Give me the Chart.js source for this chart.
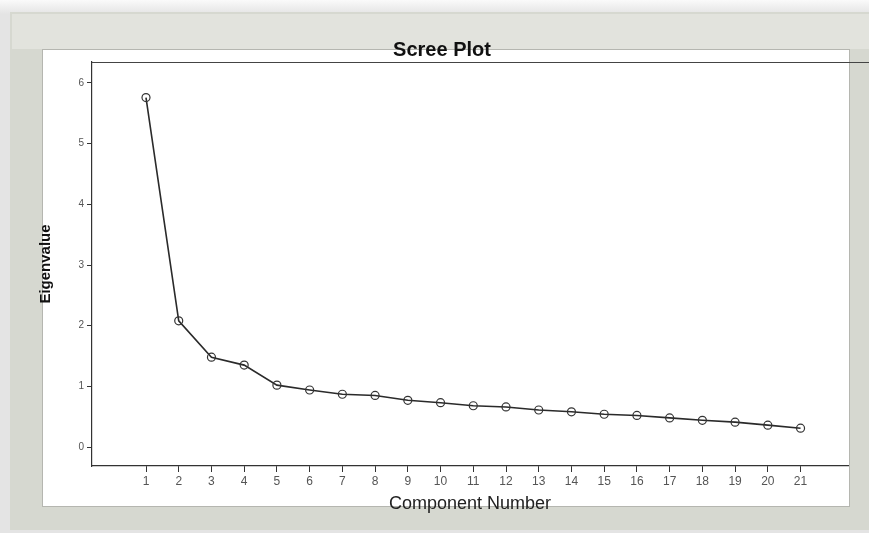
<!DOCTYPE html>
<html>
<head>
<meta charset="utf-8">
<script src="https://cdn.jsdelivr.net/npm/chart.js@4.4.1/dist/chart.umd.min.js"></script>
<style>
  html, body { margin: 0; padding: 0; background: #f0f0f0; }
  #wrap { width: 869px; height: 533px; position: relative; }
</style>
</head>
<body>
<div id="wrap"><canvas id="myChart"></canvas></div>
<script>
const components = [1, 2, 3, 4, 5, 6, 7, 8, 9, 10, 11, 12, 13, 14, 15, 16, 17, 18, 19, 20, 21];
const eigenvalues = [5.76, 2.08, 1.48, 1.35, 1.02, 0.94, 0.87, 0.85, 0.77, 0.73, 0.68, 0.66, 0.61, 0.58, 0.54, 0.52, 0.48, 0.44, 0.41, 0.36, 0.31];
const yTicks = [0, 1, 2, 3, 4, 5, 6];

const points = components.map((c, i) => ({ x: c, y: eigenvalues[i] }));

// gray window frame + white panel behind the plot
const framePlugin = {
  id: "frame",
  beforeDraw(chart) {
    const ctx = chart.ctx;
    ctx.save();
    const g = ctx.createLinearGradient(0, 0, 0, 14);
    g.addColorStop(0, "#fafafa");
    g.addColorStop(1, "#e4e4e4");
    ctx.fillStyle = g;
    ctx.fillRect(0, 0, 869, 533);
    ctx.fillStyle = "#d6d8d0";
    ctx.fillRect(10, 12, 859, 518);
    ctx.fillStyle = "#e2e3dd";
    ctx.fillRect(12, 14, 857, 35);
    ctx.fillStyle = "#ffffff";
    ctx.fillRect(42, 49, 808, 458);
    ctx.strokeStyle = "#b5b6b0";
    ctx.lineWidth = 1;
    ctx.strokeRect(42.5, 49.5, 807, 457);
    ctx.restore();
  },
  afterDraw(chart) {
    const ctx = chart.ctx;
    const a = chart.chartArea;
    ctx.save();
    ctx.strokeStyle = "#444";
    ctx.lineWidth = 1.2;
    ctx.beginPath();
    ctx.moveTo(a.left, Math.round(a.top) + 0.5);
    ctx.lineTo(869, Math.round(a.top) + 0.5);
    ctx.stroke();
    ctx.restore();
  },
};

const data = {
  datasets: [
    {
      label: "Eigenvalue",
      data: points,
      borderColor: "#2a2a2a",
      borderWidth: 1.6,
      pointRadius: 4,
      pointBorderWidth: 1.2,
      pointBorderColor: "#333",
      pointBackgroundColor: "rgba(255,255,255,0)",
      tension: 0,
    },
  ],
};

const config = {
  type: "line",
  data: data,
  options: {
    responsive: true,
    maintainAspectRatio: false,
    animation: false,
    layout: { padding: { left: 36, right: 21, top: 34, bottom: 17 } },
    plugins: {
      legend: { display: false },
      tooltip: { enabled: false },
      title: {
        display: true,
        text: "Scree Plot",
        color: "#111",
        font: { family: "Liberation Sans", size: 20, weight: "bold" },
        padding: { top: 4, bottom: 0 },
      },
    },
    scales: {
      x: {
        type: "linear",
        min: -0.65,
        max: 22.45,
        afterBuildTicks: (s) => {
          s.ticks = components.map((v) => ({ value: v }));
        },
        afterFit: (s) => {
          s.height = 50;
        },
        grid: { display: true, drawOnChartArea: false, tickLength: 6, color: "#333" },
        border: { display: true, color: "#333", width: 1.2 },
        ticks: {
          color: "#555",
          padding: 2,
          maxRotation: 0,
          autoSkip: false,
          font: { family: "Liberation Sans", size: 12 },
        },
        title: {
          display: true,
          text: "Component Number",
          color: "#222",
          font: { family: "Liberation Sans", size: 18 },
          padding: { top: 0, bottom: 1 },
        },
      },
      y: {
        type: "linear",
        min: -0.313,
        max: 6.346,
        afterBuildTicks: (s) => {
          s.ticks = yTicks.map((v) => ({ value: v }));
        },
        afterFit: (s) => {
          s.width = 56;
        },
        grid: { display: true, drawOnChartArea: false, tickLength: 5, color: "#333" },
        border: { display: true, color: "#333", width: 1.2 },
        ticks: {
          color: "#555",
          padding: 3,
          font: { family: "Liberation Sans", size: 10 },
        },
        title: {
          display: true,
          text: "Eigenvalue",
          color: "#111",
          font: { family: "Liberation Sans", size: 15, weight: "bold", lineHeight: 1 },
          padding: { top: 2, bottom: 0 },
        },
      },
    },
  },
  plugins: [framePlugin],
};

const myChart = new Chart(document.getElementById("myChart"), config);
</script>
</body>
</html>
